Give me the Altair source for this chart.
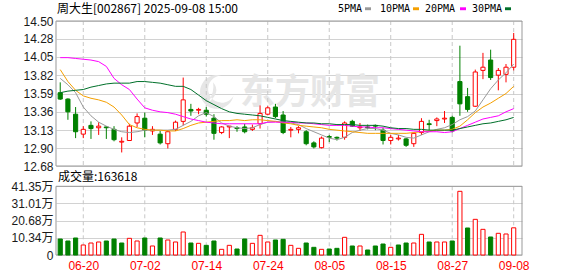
import altair as alt
import pandas as pd

# ---------------- data ----------------
dates = ["06-17", "06-18", "06-19", "06-20", "06-23", "06-24", "06-25", "06-26", "06-27", "06-30",
         "07-01", "07-02", "07-03", "07-04", "07-07", "07-08", "07-09", "07-10", "07-11", "07-14",
         "07-15", "07-16", "07-17", "07-18", "07-21", "07-22", "07-23", "07-24", "07-25", "07-28",
         "07-29", "07-30", "07-31", "08-01", "08-04", "08-05", "08-06", "08-07", "08-08", "08-11",
         "08-12", "08-13", "08-14", "08-15", "08-18", "08-19", "08-20", "08-21", "08-22", "08-25",
         "08-26", "08-27", "08-28", "08-29", "09-01", "09-02", "09-03", "09-04", "09-05", "09-08"]

opens = [13.60, 13.52, 13.33, 13.08, 13.19, 13.16, 13.17, 13.14, 12.98, 13.00,
         13.22, 13.28, 13.12, 13.08, 12.96, 13.14, 13.24, 13.39, 13.38, 13.38,
         13.28, 13.10, 13.17, 13.16, 13.17, 13.14, 13.21, 13.33, 13.42, 13.32,
         13.13, 13.14, 13.11, 12.97, 12.91, 13.05, 13.04, 13.04, 13.24, 13.16,
         13.17, 13.19, 13.13, 13.00, 13.02, 13.02, 12.96, 13.10, 13.21, 13.25,
         13.27, 13.29, 13.74, 13.55, 13.43, 13.88, 14.01, 13.82, 13.83, 13.92]
highs = [13.73, 13.53, 13.42, 13.18, 13.24, 13.23, 13.18, 13.18, 13.04, 13.21,
         13.34, 13.35, 13.18, 13.12, 13.13, 13.25, 13.79, 13.46, 13.41, 13.42,
         13.33, 13.18, 13.18, 13.18, 13.21, 13.20, 13.44, 13.43, 13.46, 13.37,
         13.17, 13.18, 13.13, 12.99, 13.05, 13.07, 13.05, 13.24, 13.26, 13.22,
         13.20, 13.20, 13.16, 13.07, 13.07, 13.03, 13.10, 13.28, 13.26, 13.29,
         13.37, 13.31, 14.19, 13.66, 13.89, 14.10, 14.14, 13.91, 13.96, 14.35]
lows = [13.51, 13.26, 13.03, 13.03, 13.02, 13.07, 13.02, 12.99, 12.85, 13.00,
        13.17, 13.04, 13.07, 12.95, 12.90, 13.12, 13.19, 13.31, 13.33, 13.30,
        13.01, 13.08, 13.03, 13.11, 13.09, 13.12, 13.15, 13.32, 13.28, 13.08,
        13.04, 13.09, 12.94, 12.90, 12.90, 12.98, 13.00, 13.01, 13.17, 13.12,
        13.14, 13.13, 12.95, 12.95, 13.00, 12.92, 12.92, 13.07, 13.13, 13.18,
        13.22, 13.10, 13.31, 13.36, 13.42, 13.77, 13.76, 13.63, 13.73, 13.88]
closes = [13.52, 13.36, 13.11, 13.14, 13.15, 13.18, 13.16, 13.01, 12.99, 13.18,
          13.30, 13.13, 13.14, 12.97, 13.11, 13.23, 13.51, 13.37, 13.39, 13.33,
          13.09, 13.17, 13.18, 13.15, 13.11, 13.16, 13.34, 13.41, 13.30, 13.10,
          13.14, 13.16, 12.96, 12.92, 13.03, 13.04, 13.03, 13.22, 13.18, 13.17,
          13.16, 13.18, 13.00, 13.04, 13.03, 12.94, 13.09, 13.24, 13.20, 13.27,
          13.28, 13.12, 13.46, 13.39, 13.86, 13.92, 13.79, 13.88, 13.92, 14.27]

# volume in 万手
volumes = [9.63, 8.43, 10.24, 6.02, 7.22, 7.83, 8.43, 9.63, 7.22, 10.03,
           8.43, 10.24, 5.42, 10.24, 9.03, 7.83, 13.85, 7.22, 7.02, 5.82,
           8.43, 3.41, 5.82, 3.61, 9.63, 7.02, 11.84, 7.83, 9.03, 9.43,
           5.82, 4.01, 7.22, 4.62, 3.41, 3.61, 4.01, 10.64, 5.42, 5.42,
           3.01, 5.42, 6.62, 4.62, 6.02, 7.22, 7.22, 12.44, 7.83, 7.83,
           7.83, 8.43, 38.33, 16.26, 21.47, 15.45, 10.84, 13.05, 12.64, 16.3618]
# 1 = red (up) volume bar, 0 = green (down)
vol_up = [0, 0, 0, 1, 1, 1, 0, 0, 0, 1,
          1, 0, 1, 0, 1, 1, 1, 0, 1, 0,
          0, 1, 1, 0, 0, 1, 1, 1, 0, 0,
          1, 1, 0, 0, 1, 0, 0, 1, 0, 1,
          0, 0, 0, 1, 0, 0, 1, 1, 0, 1,
          1, 0, 1, 0, 1, 1, 0, 1, 1, 1]

ma5 = [13.78, 13.70, 13.60, 13.42, 13.31, 13.23, 13.18, 13.14, 13.11, 13.10,
       13.11, 13.13, 13.13, 13.13, 13.13, 13.14, 13.19, 13.24, 13.31, 13.35,
       13.30, 13.22, 13.18, 13.16, 13.15, 13.16, 13.20, 13.23, 13.24, 13.23,
       13.22, 13.20, 13.15, 13.11, 13.07, 13.03, 13.01, 13.04, 13.10, 13.13,
       13.15, 13.15, 13.13, 13.09, 13.07, 13.04, 13.03, 13.07, 13.11, 13.14,
       13.16, 13.20, 13.26, 13.30, 13.37, 13.51, 13.65, 13.76, 13.85, 13.96]
ma10 = [13.89, 13.74, 13.63, 13.56, 13.53, 13.51, 13.48, 13.42, 13.32, 13.20,
        13.16, 13.14, 13.13, 13.13, 13.12, 13.12, 13.15, 13.19, 13.22, 13.23,
        13.24, 13.25, 13.25, 13.26, 13.25, 13.26, 13.26, 13.25, 13.24, 13.22,
        13.21, 13.19, 13.18, 13.17, 13.16, 13.14, 13.13, 13.12, 13.11, 13.10,
        13.09, 13.09, 13.09, 13.09, 13.09, 13.09, 13.10, 13.11, 13.12, 13.13,
        13.13, 13.14, 13.18, 13.26, 13.35, 13.42, 13.47, 13.53, 13.59, 13.68]
ma20 = [14.04, 14.04, 14.03, 14.02, 14.01, 13.99, 13.93, 13.78, 13.70, 13.64,
        13.52, 13.41, 13.38, 13.36, 13.35, 13.33, 13.30, 13.27, 13.25, 13.23,
        13.22, 13.21, 13.21, 13.21, 13.21, 13.21, 13.21, 13.23, 13.23, 13.23,
        13.23, 13.22, 13.22, 13.21, 13.20, 13.19, 13.19, 13.19, 13.18, 13.17,
        13.17, 13.16, 13.16, 13.15, 13.14, 13.13, 13.12, 13.11, 13.11, 13.11,
        13.10, 13.11, 13.15, 13.19, 13.23, 13.27, 13.29, 13.31, 13.36, 13.40]
ma30 = [13.60, 13.62, 13.63, 13.64, 13.67, 13.69, 13.71, 13.72, 13.72, 13.72,
        13.74, 13.74, 13.73, 13.72, 13.70, 13.68, 13.68, 13.64, 13.57, 13.50,
        13.45, 13.40, 13.36, 13.34, 13.33, 13.32, 13.31, 13.29, 13.27, 13.25,
        13.24, 13.23, 13.22, 13.22, 13.21, 13.21, 13.20, 13.20, 13.20, 13.19,
        13.19, 13.19, 13.18, 13.16, 13.15, 13.15, 13.14, 13.14, 13.13, 13.13,
        13.13, 13.13, 13.15, 13.17, 13.19, 13.21, 13.22, 13.24, 13.26, 13.29]

ma_names = ["5PMA", "10PMA", "20PMA", "30PMA"]
tick_labels = ["06-20", "07-02", "07-14", "07-24", "08-05", "08-15", "08-27", "09-08"]
price_ticks = [12.68, 12.90, 13.13, 13.36, 13.59, 13.82, 14.05, 14.28, 14.50]
vol_ticks = [0, 10.34, 20.68, 31.01, 41.35]
title_text = "周大生[002867] 2025-09-08 15:00"
vol_title = "成交量:163618"
watermark_text = "东方财富"

# ---------------- styles / layout ----------------
RED = "#ff0000"
GREEN = "#008000"
ma_colors = ["#999999", "#f5a000", "#ff00ff", "#00702a"]
W, H = 466, 234
PH = 145            # price panel height
VT, VB = 165.3, H   # volume panel top / bottom
HALF = 0.27         # half candle width in index units
CJK = "Noto Sans CJK SC"
AXF = "Liberation Sans, Noto Sans CJK SC"

n = len(dates)
df = pd.DataFrame({"i": list(range(n)), "o": opens, "h": highs, "l": lows, "c": closes})
vdf = pd.DataFrame({"i": list(range(n)), "vol": volumes, "up": vol_up})
ma_df = pd.concat([pd.DataFrame({"i": list(range(n)), "name": nm, "v": vals})
                   for nm, vals in zip(ma_names, [ma5, ma10, ma20, ma30])], ignore_index=True)
label_idx = [dates.index(t) for t in tick_labels]
grid_df = pd.DataFrame({"i": label_idx})

date_arr = "[" + ",".join("'%s'" % d for d in dates) + "]"
xscale = alt.Scale(domain=[-0.55, 60.08], nice=False, zero=False)
xaxis = alt.Axis(values=label_idx, labelExpr=date_arr + "[datum.value]", grid=False, ticks=False,
                 domain=False, labelColor=RED, labelFont="Liberation Sans", labelFontSize=12,
                 labelPadding=5, labelFlush=False, title=None, orient="bottom")

yP = alt.Scale(domain=[12.68, 14.50], range=[PH, 0], nice=False, zero=False)
axP = alt.Axis(values=price_ticks, format=".2f", orient="left", grid=True, gridColor="#d2d2d2",
               domain=False, ticks=False, labelPadding=3, labelColor="#1a1a1a",
               labelFont="Liberation Sans", labelFontSize=12, labelFlush=False,
               labelOverlap=False, title=None)
yV = alt.Scale(domain=[0, 41.35], range=[VB, VT], nice=False, zero=False)
axV = alt.Axis(values=vol_ticks, labelExpr="datum.value == 0 ? '0' : format(datum.value, '.2f') + '万'",
               orient="left", grid=True, gridColor="#d2d2d2", domain=False, ticks=False,
               labelPadding=3, labelColor="#1a1a1a", labelFont=AXF, labelFontSize=12,
               labelFlush=False, labelOverlap=False, title=None)

X_i = alt.X("i:Q", scale=xscale, axis=xaxis)
X_0 = alt.X("x0:Q", scale=xscale, axis=xaxis)

up_f = "datum.c >= datum.o"
dn_f = "datum.c < datum.o"
calc = dict(x0="datum.i - %f" % HALF, x1="datum.i + %f" % HALF)

base = alt.Chart(df)
wick_up = base.transform_filter(up_f).mark_rule(color=RED, strokeWidth=1).encode(
    x=X_i, y=alt.Y("l:Q", scale=yP, axis=axP), y2="h:Q")
wick_dn = base.transform_filter(dn_f).mark_rule(color=GREEN, strokeWidth=1).encode(
    x=X_i, y=alt.Y("l:Q", scale=yP, axis=axP), y2="h:Q")
body_up = base.transform_filter(up_f).transform_calculate(**calc).mark_rect(
    fill="white", stroke=RED, strokeWidth=1).encode(
    x=X_0, x2="x1:Q", y=alt.Y("o:Q", scale=yP, axis=axP), y2="c:Q")
body_dn = base.transform_filter(dn_f).transform_calculate(**calc).mark_rect(
    fill=GREEN, stroke=GREEN, strokeWidth=1).encode(
    x=X_0, x2="x1:Q", y=alt.Y("o:Q", scale=yP, axis=axP), y2="c:Q")
lines = alt.Chart(ma_df).mark_line(strokeWidth=1).encode(
    x=X_i, y=alt.Y("v:Q", scale=yP, axis=axP),
    color=alt.Color("name:N", scale=alt.Scale(domain=ma_names, range=ma_colors), legend=None))
price = alt.layer(wick_up, wick_dn, body_up, body_dn, lines)

vbase = alt.Chart(vdf).transform_calculate(z="0", **calc)
vol_r = vbase.transform_filter("datum.up == 1").mark_rect(fill="white", stroke=RED, strokeWidth=1).encode(
    x=X_0, x2="x1:Q", y=alt.Y("vol:Q", scale=yV, axis=axV), y2="z:Q")
vol_g = vbase.transform_filter("datum.up == 0").mark_rect(fill=GREEN, stroke=GREEN, strokeWidth=1).encode(
    x=X_0, x2="x1:Q", y=alt.Y("vol:Q", scale=yV, axis=axV), y2="z:Q")
volume = alt.layer(vol_r, vol_g)

vgrid_p = alt.Chart(grid_df).mark_rule(color="#c8c8c8", strokeDash=[4, 3], strokeWidth=1).encode(
    x=X_i, y=alt.value(0), y2=alt.value(PH))
vgrid_v = alt.Chart(grid_df).mark_rule(color="#c8c8c8", strokeDash=[4, 3], strokeWidth=1).encode(
    x=X_i, y=alt.value(VT), y2=alt.value(VB))

one = pd.DataFrame({"k": [0]})


def frame(y0, y1):
    return alt.Chart(one).mark_rect(fillOpacity=0, stroke="#999999", strokeWidth=1).encode(
        x=alt.value(0), x2=alt.value(W), y=alt.value(y0), y2=alt.value(y1))


def label(text, x, y, size=12, color="#000000", font=CJK, weight="normal", align="left"):
    return alt.Chart(pd.DataFrame({"t": [text]})).mark_text(
        align=align, baseline="middle", font=font, fontSize=size, color=color, fontWeight=weight
    ).encode(text="t:N", x=alt.value(x), y=alt.value(y))


def swatch(x, color):
    return alt.Chart(one).mark_rect(color=color).encode(
        x=alt.value(x), x2=alt.value(x + 6), y=alt.value(-13.7), y2=alt.value(-10.8))


watermark = label(watermark_text, 254, 71.5, size=35, color="#e6e6e6", weight="bold", align="center")
logo = alt.Chart(one).mark_point(
    shape="M0.3,-1 A1,1 0 1,0 1,0.2 A0.8,0.8 0 1,1 0.3,-1 Z M-0.2,-0.6 Q0.3,0 -0.5,0.6 Q-0.1,0 -0.2,-0.6 Z",
    size=1150, filled=True, color="#e6e6e6", opacity=1).encode(x=alt.value(160.5), y=alt.value(71.5))

legend_x = [282, 324, 369, 416]
swatch_x = [309, 357, 404, 449]
legend_layers = []
for nm, col, lx, sx in zip(ma_names, ma_colors, legend_x, swatch_x):
    legend_layers.append(label(nm, lx, -12, size=10, font="DejaVu Sans Mono"))
    legend_layers.append(swatch(sx, col))

chart = alt.layer(
    watermark, logo, vgrid_p, vgrid_v, frame(0, PH), frame(VT, VB),
    price, volume,
    label(title_text, 1, -12), label(vol_title, 2, 156),
    *legend_layers
).resolve_scale(y="independent").properties(
    width=W, height=H,
    autosize=alt.AutoSizeParams(type="none"),
    padding={"left": 56, "top": 21, "right": 56, "bottom": 21},
    background="white",
).configure_view(stroke="transparent")

chart.save("out.html", embed_options={"renderer": "svg", "actions": False})
